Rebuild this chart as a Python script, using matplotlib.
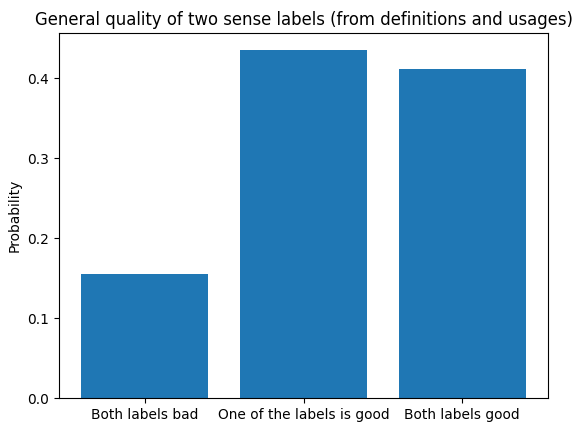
import matplotlib
matplotlib.use("Agg")
import matplotlib.pyplot as plt

categories = ["Both labels bad", "One of the labels is good", "Both labels good"]
values = [0.155, 0.435, 0.412]

plt.rcParams["font.size"] = 9.9
fig = plt.figure(figsize=(5.73, 4.23), dpi=100)
ax = fig.add_axes([0.1030, 0.0591, 0.8534, 0.8629])
ax.bar(categories, values, color="#1f77b4")
ax.set_ylabel("Probability")
ax.set_title("General quality of two sense labels (from definitions and usages)")
ax.set_yticks([0.0, 0.1, 0.2, 0.3, 0.4])
fig.savefig("out.png", dpi=100)
